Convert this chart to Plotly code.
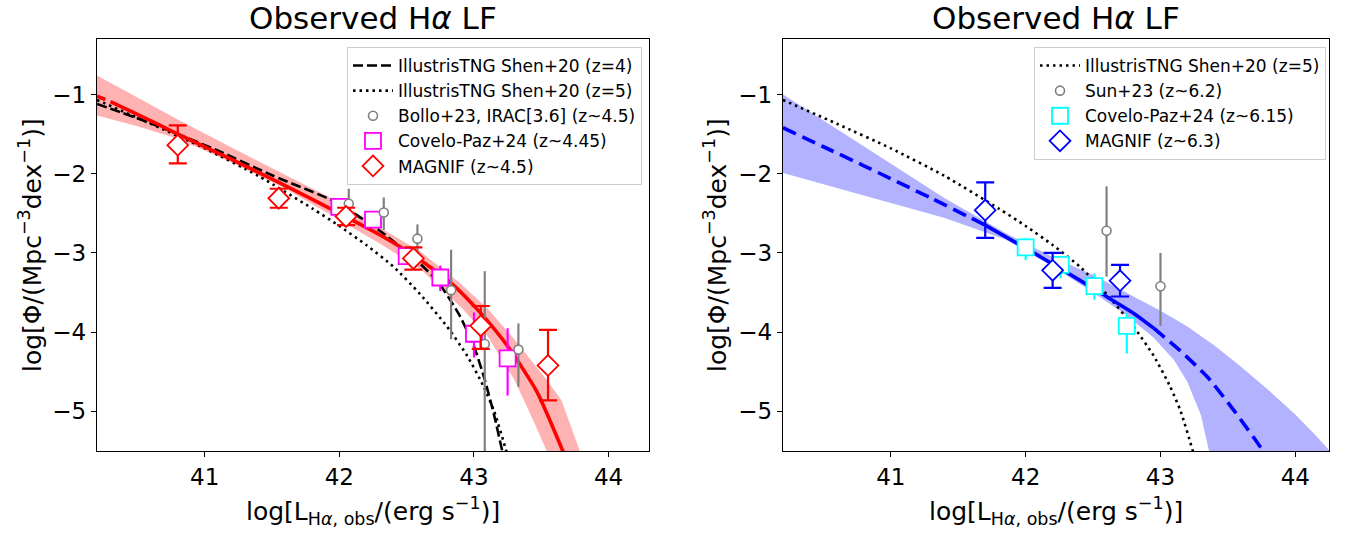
import plotly.graph_objects as go

# ---------------- data: left panel (z ~ 4.5) ----------------
tng4_x = [40.2, 40.5, 40.8, 41.1, 41.5, 41.975, 42.3, 42.57, 42.73, 42.89, 43.0, 43.08, 43.15, 43.21, 43.25]
tng4_y = [-1.12, -1.30, -1.50, -1.71, -2.02, -2.36, -2.72, -3.09, -3.36, -3.78, -4.18, -4.60, -5.05, -5.50, -5.80]

tng5_x = [40.2, 40.6, 41.0, 41.4, 41.8, 42.0, 42.2, 42.4, 42.6, 42.8, 42.95, 43.07, 43.15, 43.24, 43.28]
tng5_y = [-1.07, -1.37, -1.68, -2.03, -2.44, -2.66, -2.90, -3.17, -3.52, -3.93, -4.30, -4.68, -5.00, -5.50, -5.75]

fit45_x = [40.2, 40.3, 40.5, 40.8, 41.2, 41.55, 42.0, 42.3, 42.55, 42.83, 43.05, 43.26, 43.47, 43.66, 43.72]
fit45_y = [-1.02, -1.09, -1.25, -1.50, -1.82, -2.11, -2.50, -2.77, -3.03, -3.38, -3.76, -4.20, -4.76, -5.50, -5.75]
fit45_solid_from = 40.3

band45_x = [40.2, 40.5, 40.8, 41.2, 41.6, 42.0, 42.3, 42.6, 42.9, 43.1, 43.3, 43.45, 43.54, 43.65, 43.79, 43.85]
band45_hi = [-0.76, -1.04, -1.315, -1.67, -2.02, -2.36, -2.68, -2.98, -3.385, -3.70, -4.09, -4.40, -4.60, -4.86, -5.50, -5.80]
band45_lo = [-1.265, -1.40, -1.56, -1.86, -2.19, -2.58, -2.88, -3.20, -3.68, -4.05, -4.60, -5.15, -5.50, -6.00, -6.80, -7.00]

bollo_x = [42.07, 42.33, 42.58, 42.83, 43.08, 43.33]
bollo_y = [-2.38, -2.49, -2.82, -3.47, -4.15, -4.22]
bollo_hi = [-2.19, -2.30, -2.64, -2.96, -3.23, -3.89]
bollo_lo = [-2.55, -2.71, -3.00, -4.09, -5.60, -4.69]

cp45_x = [42.0, 42.25, 42.5, 42.75, 43.0, 43.25]
cp45_y = [-2.42, -2.58, -3.04, -3.31, -4.02, -4.33]
cp45_hi = [-2.38, -2.52, -2.99, -3.16, -3.75, -3.95]
cp45_lo = [-2.46, -2.65, -3.10, -3.48, -4.32, -4.80]

mag45_x = [40.80, 41.55, 42.05, 42.55, 43.05, 43.55]
mag45_y = [-1.64, -2.31, -2.54, -3.07, -3.92, -4.42]
mag45_hi = [-1.39, -2.19, -2.43, -2.93, -3.67, -3.97]
mag45_lo = [-1.87, -2.43, -2.65, -3.21, -4.21, -4.86]

# ---------------- data: right panel (z ~ 6.3) ----------------
fit63_x = [40.2, 40.5, 40.8, 41.3, 41.7, 42.0, 42.3, 42.55, 42.8, 42.95, 43.15, 43.35, 43.55, 43.76, 43.82]
fit63_y = [-1.42, -1.66, -1.90, -2.31, -2.65, -2.94, -3.24, -3.50, -3.76, -3.95, -4.24, -4.57, -5.00, -5.50, -5.70]
fit63_solid = [41.7, 42.95]

band63_hi_x = [40.2, 40.6, 41.0, 41.4, 41.85, 42.2, 42.5, 42.75, 43.0, 43.2, 43.4, 43.6, 43.8, 44.0, 44.15, 44.3]
band63_hi = [-1.00, -1.44, -1.87, -2.31, -2.75, -3.05, -3.28, -3.50, -3.73, -3.93, -4.17, -4.44, -4.73, -5.04, -5.30, -5.58]
band63_lo_x = [40.2, 40.6, 41.0, 41.4, 41.85, 42.2, 42.5, 42.75, 42.95, 43.1, 43.2, 43.3, 43.36, 43.42]
band63_lo = [-1.99, -2.18, -2.37, -2.56, -2.83, -3.17, -3.50, -3.79, -4.07, -4.35, -4.63, -5.05, -5.50, -6.00]

sun_x = [42.60, 43.00]
sun_y = [-2.72, -3.42]
sun_hi = [-2.16, -3.00]
sun_lo = [-3.30, -3.92]

cp6_x = [42.0, 42.26, 42.51, 42.75]
cp6_y = [-2.93, -3.15, -3.42, -3.92]
cp6_hi = [-2.81, -3.05, -3.26, -3.76]
cp6_lo = [-3.09, -3.32, -3.59, -4.27]

mag63_x = [41.70, 42.20, 42.70]
mag63_y = [-2.46, -3.22, -3.35]
mag63_hi = [-2.11, -3.00, -3.15]
mag63_lo = [-2.81, -3.44, -3.55]

xticks = [41, 42, 43, 44]
yticks = [-1, -2, -3, -4, -5]

FONT = "DejaVu Sans"
W, H = 1347, 534

fig = go.Figure()


def band(xh, hi, xl, lo, color, xa, ya):
    fig.add_trace(go.Scatter(
        x=list(xh) + list(xl)[::-1], y=list(hi) + list(lo)[::-1],
        fill="toself", fillcolor=color, line=dict(width=0), mode="lines",
        hoverinfo="skip", showlegend=False, xaxis=xa, yaxis=ya))


def line(x, y, color, width, dash, xa, ya, name=None, legend="legend", rank=1000, show=False):
    fig.add_trace(go.Scatter(
        x=x, y=y, mode="lines", name=name, showlegend=show, legend=legend, legendrank=rank,
        legendgroup=(name or "") + legend,
        line=dict(color=color, width=width, dash=dash, shape="spline", smoothing=0.6),
        xaxis=xa, yaxis=ya))


def points(x, y, hi, lo, color, symbol, size, lw, capw, name, xa, ya, legend, rank):
    fig.add_trace(go.Scatter(
        x=x, y=y, mode="markers", name=name, legend=legend, legendrank=rank,
        legendgroup=name + legend,
        marker=dict(symbol=symbol, size=size, color="white", line=dict(color=color, width=lw)),
        error_y=dict(type="data", symmetric=False,
                     array=[h - v for h, v in zip(hi, y)],
                     arrayminus=[v - l for v, l in zip(y, lo)],
                     color=color, thickness=2.2, width=capw),
        xaxis=xa, yaxis=ya))


def split(x, y, lo, hi):
    sx = [a for a in x if lo <= a <= hi]
    sy = [b for a, b in zip(x, y) if lo <= a <= hi]
    return sx, sy


DASH_TNG = "10px,4px"
DOT_TNG = "2.5px,4px"

# ----- left panel -----
band(band45_x, band45_hi, band45_x, band45_lo, "rgba(255,0,0,0.3)", "x", "y")
line(tng4_x, tng4_y, "black", 2.6, DASH_TNG, "x", "y", "IllustrisTNG Shen+20 (z=4)", "legend", 1, True)
line(tng5_x, tng5_y, "black", 2.6, DOT_TNG, "x", "y", "IllustrisTNG Shen+20 (z=5)", "legend", 2, True)
sx, sy = split(fit45_x, fit45_y, -1e9, fit45_solid_from)
line(sx, sy, "red", 3.6, "9px,6px", "x", "y")
sx, sy = split(fit45_x, fit45_y, fit45_solid_from, 1e9)
line(sx, sy, "red", 3.6, "solid", "x", "y")
points(cp45_x, cp45_y, cp45_hi, cp45_lo, "magenta", "square", 16, 1.8, 0,
       "Covelo-Paz+24 (z~4.45)", "x", "y", "legend", 4)
points(bollo_x, bollo_y, bollo_hi, bollo_lo, "gray", "circle", 9, 1.6, 0,
       "Bollo+23, IRAC[3.6] (z~4.5)", "x", "y", "legend", 3)
points(mag45_x, mag45_y, mag45_hi, mag45_lo, "red", "diamond", 16, 1.8, 9,
       "MAGNIF (z~4.5)", "x", "y", "legend", 5)

# ----- right panel -----
band(band63_hi_x, band63_hi, band63_lo_x, band63_lo, "rgba(0,0,255,0.3)", "x2", "y2")
line(tng5_x, tng5_y, "black", 2.6, DOT_TNG, "x2", "y2", "IllustrisTNG Shen+20 (z=5)", "legend2", 1, True)
sx, sy = split(fit63_x, fit63_y, -1e9, fit63_solid[0])
line(sx, sy, "blue", 3.6, "14px,7px", "x2", "y2")
sx, sy = split(fit63_x, fit63_y, fit63_solid[0], fit63_solid[1])
line(sx, sy, "blue", 3.6, "solid", "x2", "y2")
sx, sy = split(fit63_x, fit63_y, fit63_solid[1], 1e9)
line(sx, sy, "blue", 3.6, "14px,7px", "x2", "y2")
points(sun_x, sun_y, sun_hi, sun_lo, "gray", "circle", 9, 1.6, 0,
       "Sun+23 (z~6.2)", "x2", "y2", "legend2", 2)
points(cp6_x, cp6_y, cp6_hi, cp6_lo, "cyan", "square", 16, 1.8, 0,
       "Covelo-Paz+24 (z~6.15)", "x2", "y2", "legend2", 3)
points(mag63_x, mag63_y, mag63_hi, mag63_lo, "blue", "diamond", 16, 1.8, 9,
       "MAGNIF (z~6.3)", "x2", "y2", "legend2", 4)

ydom = [1 - 451 / H, 1 - 39 / H]
axis_common = dict(showline=True, linecolor="black", linewidth=1.3, mirror=True,
                   ticks="outside", ticklen=5, tickwidth=1.3, tickcolor="black",
                   showgrid=False, zeroline=False,
                   tickfont=dict(family=FONT, size=23, color="black"))

legend_common = dict(y=1 - 47 / H, yanchor="top", xanchor="right",
                     bgcolor="white", bordercolor="#cccccc", borderwidth=1,
                     font=dict(family=FONT, size=17, color="black"),
                     traceorder="grouped", tracegroupgap=0, itemwidth=40)

fig.update_layout(
    width=W, height=H, margin=dict(l=0, r=0, t=0, b=0),
    paper_bgcolor="white", plot_bgcolor="white",
    font=dict(family=FONT, color="black"),
    xaxis=dict(domain=[97 / W, 649 / W], range=[40.2, 44.3], tickvals=xticks, anchor="y", **axis_common),
    yaxis=dict(domain=ydom, range=[-5.5, -0.3], tickvals=yticks, anchor="x", **axis_common),
    xaxis2=dict(domain=[783 / W, 1329 / W], range=[40.2, 44.25], tickvals=xticks, anchor="y2", **axis_common),
    yaxis2=dict(domain=ydom, range=[-5.5, -0.3], tickvals=yticks, anchor="x2", **axis_common),
    legend=dict(x=642 / W, **legend_common),
    legend2=dict(x=1326 / W, **legend_common),
    showlegend=True,
)

title_txt = "Observed H<i>α</i> LF"
xlab = "log[L<sub>H<i>α</i>, obs</sub>/(erg s<sup>−1</sup>)]"
ylab = "log[Φ/(Mpc<sup>−3</sup>dex<sup>−1</sup>)]"
ann = []
for cx, ylx in [((97 + 649) / 2, 30), ((783 + 1329) / 2, 715)]:
    ann.append(dict(x=cx / W, y=1 - 18 / H, xref="paper", yref="paper", text=title_txt,
                    showarrow=False, xanchor="center", yanchor="middle",
                    font=dict(family=FONT, size=31, color="black")))
    ann.append(dict(x=cx / W, y=1 - 511 / H, xref="paper", yref="paper", text=xlab,
                    showarrow=False, xanchor="center", yanchor="middle",
                    font=dict(family=FONT, size=25, color="black")))
    ann.append(dict(x=ylx / W, y=1 - 245 / H, xref="paper", yref="paper", text=ylab,
                    showarrow=False, xanchor="center", yanchor="middle", textangle=-90,
                    font=dict(family=FONT, size=25, color="black")))
fig.update_layout(annotations=ann)

fig.write_html("out.html")
